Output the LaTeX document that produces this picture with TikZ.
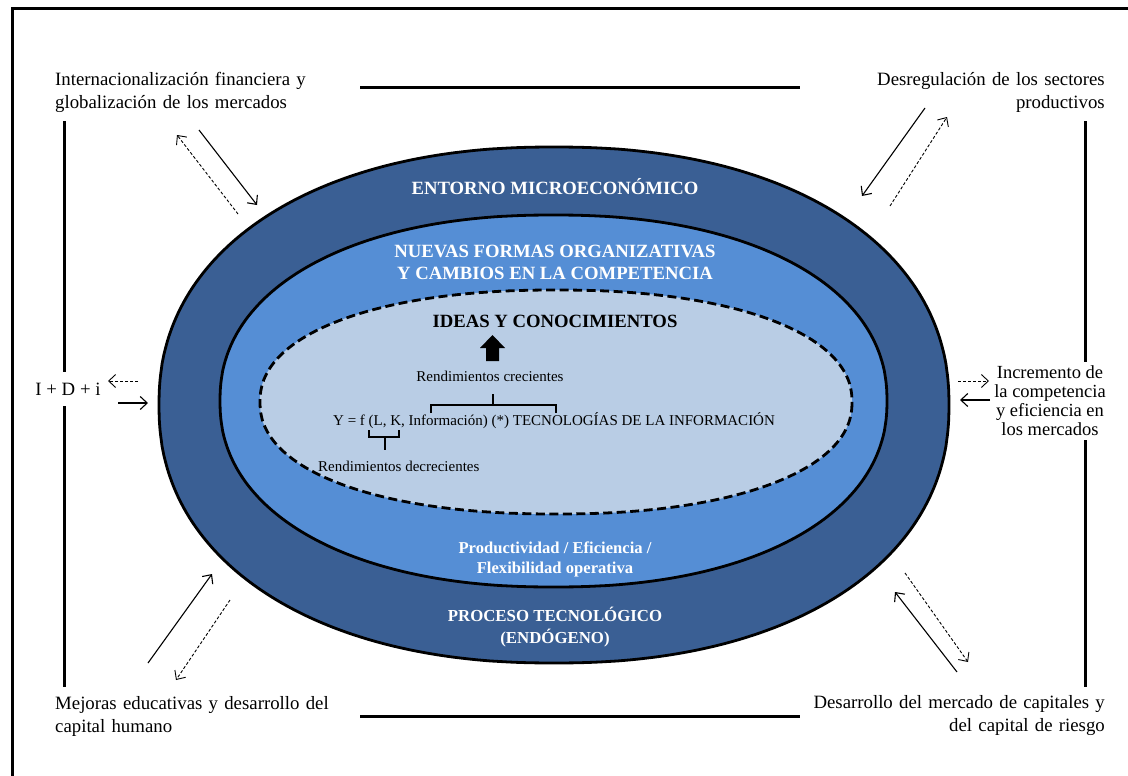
\documentclass[tikz,border=0pt]{standalone}
\usepackage{fontspec}
\setmainfont{Liberation Serif}
\usetikzlibrary{arrows.meta,calc}
\definecolor{darkblue}{HTML}{3A5F94}
\definecolor{midblue}{HTML}{558ED5}
\definecolor{lightblue}{HTML}{B9CDE5}
% superellipse: centre x, centre y, half width, half height
\newcommand\SupEllPath[4]{plot[domain=0.5:360.5, samples=361] ({#1+#3*sign(cos(\x))*pow(abs(cos(\x)),0.91)}, {#2+#4*sign(sin(\x))*pow(abs(sin(\x)),0.91)}) -- cycle}
\begin{document}
\begin{tikzpicture}[x=1pt,y=-1pt,
  frame/.style={line width=3pt},
  boxtxt/.style={fill=white, inner xsep=13pt, inner ysep=4pt, minimum height=58pt, text width=292pt, font=\fontsize{18.8}{23}\selectfont},
  ring/.style={draw=black, line width=2.8pt, line join=round},
  whitehead/.style={text=white, align=center, font=\bfseries\fontsize{18.7}{22}\selectfont},
  smallhead/.style={text=white, align=center, font=\bfseries\fontsize{16.6}{20}\selectfont},
  plain/.style={font=\fontsize{15}{18}\selectfont, inner sep=0pt},
  sarrow/.style={-{Straight Barb[length=7pt,width=13pt]}, line width=1.1pt},
  darrow/.style={-{Straight Barb[length=7pt,width=13pt]}, line width=0.9pt, dash pattern=on 3pt off 2pt},
  brace/.style={line width=2.2pt}
]
\useasboundingbox (0,0) rectangle (1128,776);
\fill[white] (0,0) rectangle (1128,776);
\draw[line width=3pt] (12,776) -- (12,9) -- (1128,9);

% rings (slightly squarish ellipses)
\draw[ring, fill=darkblue] \SupEllPath{554}{405}{395}{258};
\draw[ring, fill=midblue] \SupEllPath{553.5}{401}{333.5}{186};
\draw[ring, fill=lightblue, dash pattern=on 9pt off 4.5pt] \SupEllPath{556}{402}{296}{112};

% ring texts
\node[whitehead] (entorno) at (555,187) {ENTORNO MICROECONÓMICO};
\node[whitehead] (nuevas) at (555,262) {NUEVAS FORMAS ORGANIZATIVAS\\Y CAMBIOS EN LA COMPETENCIA};
\node[smallhead] (prod) at (555,559) {Productividad / Eficiencia /\\Flexibilidad operativa};
\node[smallhead, font=\bfseries\fontsize{16.8}{22}\selectfont] (proceso) at (555,627) {PROCESO TECNOLÓGICO\\(ENDÓGENO)};
\node[font=\bfseries\fontsize{18.7}{22}\selectfont] (ideas) at (555,321) {IDEAS Y CONOCIMIENTOS};

% block arrow
\fill (486,361) -- (486,348) -- (480,348) -- (492.5,335) -- (505,348) -- (499,348) -- (499,361) -- cycle;

\node[plain] (rc) at (490,376) {Rendimientos crecientes};
\node[plain, anchor=west] (eq) at (333,421) {Y = f (L, K, Información) (*) TECNOLOGÍAS DE LA INFORMACIÓN};
\node[plain, anchor=west] (rd) at (318,466) {Rendimientos decrecientes};

% braces
\draw[brace] (431,413) -- (431,405) -- (556,405) -- (556,413) (493,405) -- (493,394);
\draw[brace] (369,430) -- (369,437) -- (399,437) -- (399,430) (385,437) -- (385,450);

% boxes
\node[boxtxt, anchor=west, align=left] (tl) at (42,92) {Internacionalización financiera y\\globalización de los mercados};
\node[boxtxt, anchor=east, align=right] (tr) at (1118,92) {Desregulación de los sectores\\productivos};
\node[boxtxt, anchor=west, align=left] (bl) at (42,716) {Mejoras educativas y desarrollo del\\capital humano};
\node[boxtxt, anchor=east, align=right] (br) at (1118,716) {Desarrollo del mercado de capitales y\\del capital de riesgo};
\node[fill=white, inner xsep=10pt, inner ysep=4pt, minimum height=34pt, font=\fontsize{18.8}{23}\selectfont] (idi) at (68,389) {I + D + i};
\node[fill=white, inner xsep=6pt, inner ysep=4pt, align=center, font=\fontsize{18.5}{19}\selectfont] (inc) at (1050,401) {Incremento de\\la competencia\\y eficiencia en\\los mercados};

% inner frame lines
\draw[frame] ([yshift=4pt]tl.east) -- ([yshift=4pt]tr.west);
\draw[frame] (bl.east) -- (br.west);
\draw[frame] ([xshift=22pt]tl.south west) -- ([xshift=22pt]tl.south west |- idi.north);
\draw[frame] ([xshift=22pt]bl.north west |- idi.south) -- ([xshift=22pt]bl.north west);
\draw[frame] ([xshift=-33pt]tr.south east) -- ([xshift=-33pt]tr.south east |- inc.north);
\draw[frame] ([xshift=-33pt]br.north east |- inc.south) -- ([xshift=-33pt]br.north east);

% arrow end points
\coordinate (tlS1) at (199,130); \coordinate (tlS2) at (257,205);
\coordinate (tlD1) at (238,214); \coordinate (tlD2) at (177,135);
\coordinate (trS1) at (925,108); \coordinate (trS2) at (862,196);
\coordinate (trD1) at (890,206); \coordinate (trD2) at (947,117);
\coordinate (idD1) at (138,381); \coordinate (idD2) at (108,381);
\coordinate (idS1) at (118,403); \coordinate (idS2) at (148,403);
\coordinate (inD1) at (958,381); \coordinate (inD2) at (989,381);
\coordinate (inS1) at (990,400); \coordinate (inS2) at (960,400);
\coordinate (blS1) at (148,663); \coordinate (blS2) at (212,574);
\coordinate (blD1) at (230,600); \coordinate (blD2) at (176,680);
\coordinate (brS1) at (957,672); \coordinate (brS2) at (895,592);
\coordinate (brD1) at (905,573); \coordinate (brD2) at (968,662);

\draw[sarrow] (tlS1) -- (tlS2);
\draw[darrow] (tlD1) -- (tlD2);
\draw[sarrow] (trS1) -- (trS2);
\draw[darrow] (trD1) -- (trD2);
\draw[darrow] (idD1) -- (idD2);
\draw[sarrow] (idS1) -- (idS2);
\draw[darrow] (inD1) -- (inD2);
\draw[sarrow] (inS1) -- (inS2);
\draw[sarrow] (blS1) -- (blS2);
\draw[darrow] (blD1) -- (blD2);
\draw[sarrow] (brS1) -- (brS2);
\draw[darrow] (brD1) -- (brD2);
\end{tikzpicture}
\end{document}
